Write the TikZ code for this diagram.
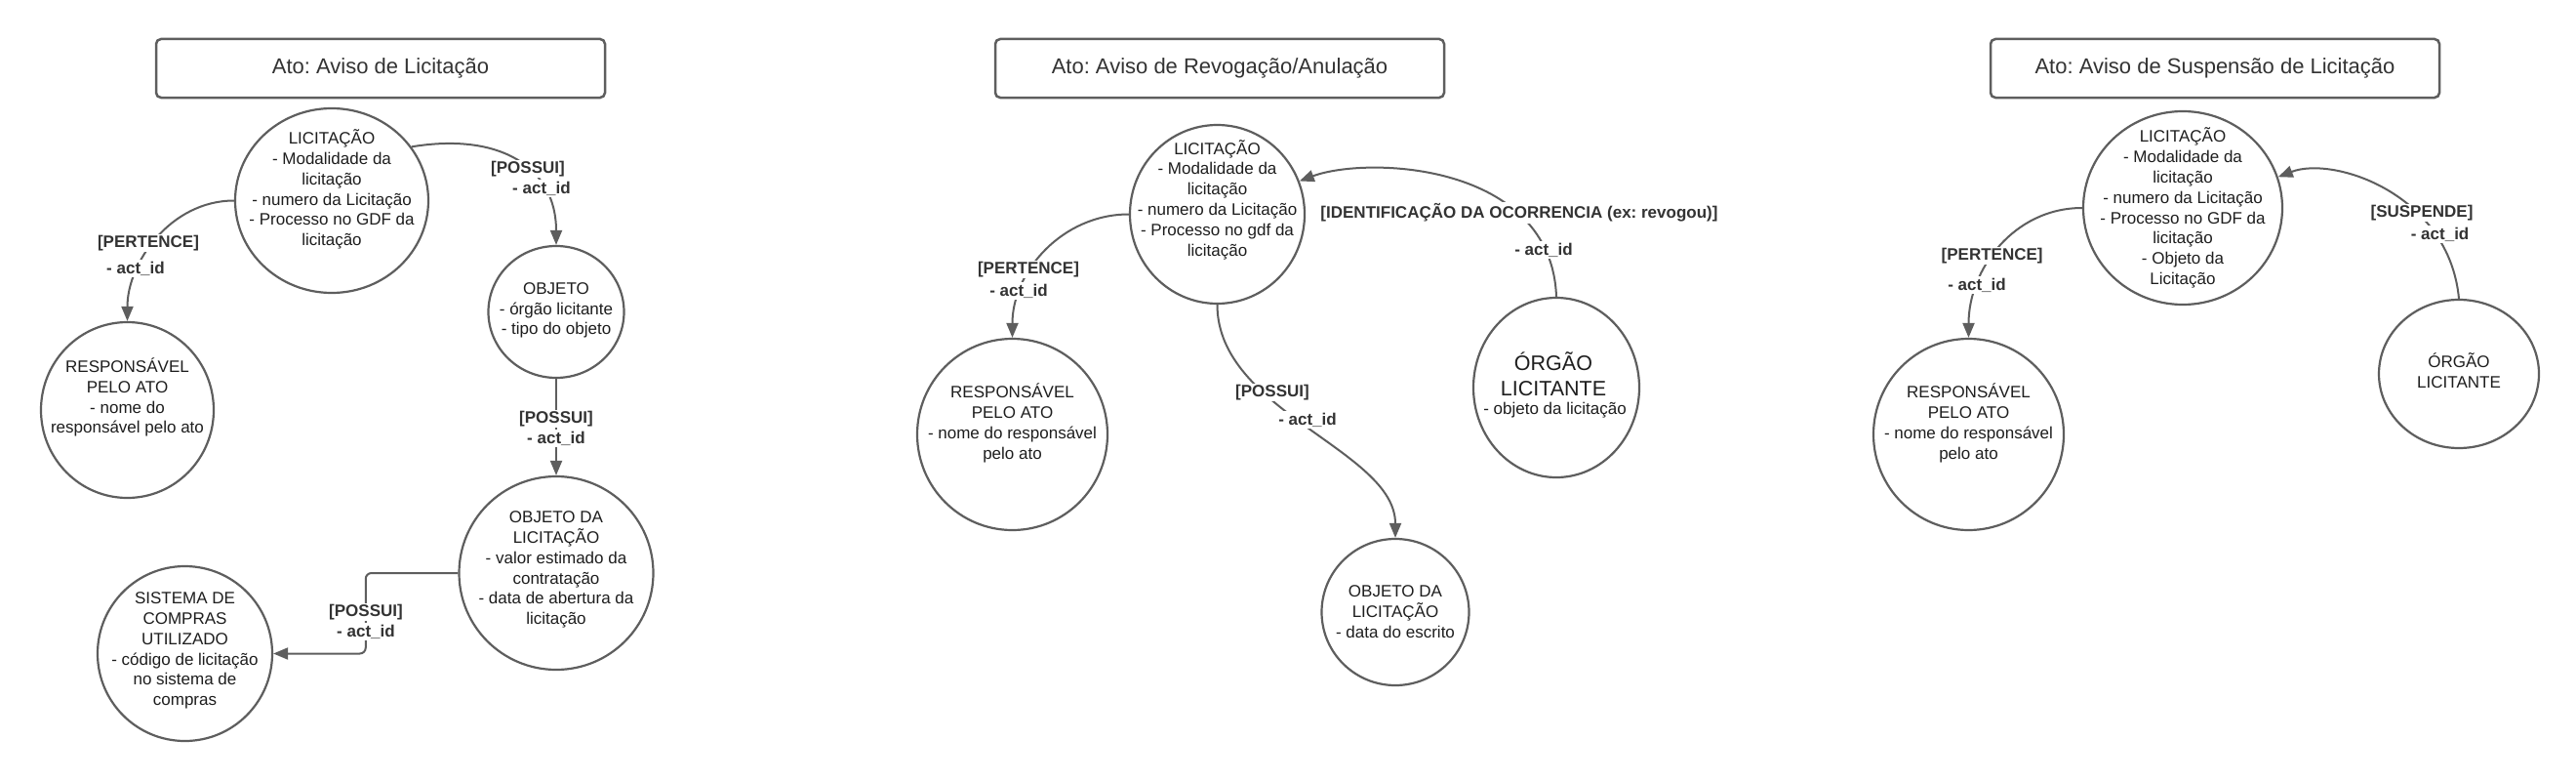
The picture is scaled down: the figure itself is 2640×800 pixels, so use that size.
\documentclass[tikz,border=0pt]{standalone}
\usepackage{fontspec}
\setmainfont{Liberation Sans}
\usetikzlibrary{arrows.meta,calc,shapes.geometric}
\definecolor{lnc}{HTML}{5E5E5E}
\definecolor{txc}{HTML}{1E1E1E}
\definecolor{lbc}{HTML}{333333}
\frenchspacing
\tikzset{
  ent/.style={ellipse, draw=lnc, line width=2.2pt, inner sep=0pt, fill=white},
  etxt/.style={align=center, font=\fontsize{17}{20.8}\selectfont, text=txc, inner sep=0pt},
  lbl/.style={font=\fontsize{17}{20}\selectfont\bfseries, text=lbc, fill=white, inner xsep=2pt, inner ysep=1.5pt},
  conn/.style={draw=lnc, line width=2pt, -{Triangle[length=15pt,width=12pt]}},
  titlebox/.style={draw=lnc, line width=2.5pt, rounded corners=5pt, minimum width=460pt, minimum height=60pt, font=\fontsize{22}{26}\selectfont, text=lbc, inner sep=0pt},
}
\begin{document}
\begin{tikzpicture}[x=1pt,y=-1pt]
\fill[white] (0,0) rectangle (2640,800);
\useasboundingbox (0,0) rectangle (2640,800);

% ---------------- Panel 1 ----------------
\node[titlebox] (t1) at (390,70) {Ato: Aviso de Licitação};
\node[ent, minimum width=198pt, minimum height=189pt] (l1) at (340,205.5) {};
\node[etxt] (l1t) at (340,194) {LICITAÇÃO\\- Modalidade da\\licitação\\- numero da Licitação\\- Processo no GDF da\\licitação};
\node[ent, minimum width=139pt, minimum height=135pt] (o1) at (570,319.5) {};
\node[etxt] (o1t) at (570,318) {OBJETO\\- órgão licitante\\- tipo do objeto};
\node[ent, minimum width=177pt, minimum height=180pt] (r1) at (130.5,420) {};
\node[etxt] (r1t) at (130.5,407) {RESPONSÁVEL\\PELO ATO\\- nome do\\responsável pelo ato};
\node[ent, minimum width=199pt, minimum height=198pt] (ol1) at (570,587) {};
\node[etxt] (ol1t) at (570,583.5) {OBJETO DA\\LICITAÇÃO\\- valor estimado da\\contratação\\- data de abertura da\\licitação};
\node[ent, minimum width=179pt, minimum height=179pt] (s1) at (189.5,669.5) {};
\node[etxt] (s1t) at (189.5,666.5) {SISTEMA DE\\COMPRAS\\UTILIZADO\\- código de licitação\\no sistema de\\compras};

\draw[conn] (l1.west) .. controls +(-65,0) and +(0,-60) .. (r1.north);
\node[lbl] (p1a) at (152,249) {[PERTENCE]};
\node[lbl] (p1b) at (139,275) {- act\_id};

\draw[conn] (l1.34) .. controls +(90,-15) and +(0,-80) .. (o1.north);
\node[lbl] (p2a) at (541,173) {[POSSUI]};
\node[lbl] (p2b) at (555,193) {- act\_id};

\draw[conn] (o1.south) -- (ol1.north);
\node[lbl] (p3a) at (570,429) {[POSSUI]};
\node[lbl] (p3b) at (570,449) {- act\_id};

\draw[conn, rounded corners=6pt] (ol1.west) -| ($(s1.east)!.5!(ol1.west |- s1.east)$) -- (s1.east);
\node[lbl] (p4a) at (375,627) {[POSSUI]};
\node[lbl] (p4b) at (375,647) {- act\_id};

% ---------------- Panel 2 ----------------
\node[titlebox] (t2) at (1250,70) {Ato: Aviso de Revogação/Anulação};
\node[ent, minimum width=179pt, minimum height=183pt] (l2) at (1247.5,219.5) {};
\node[etxt] (l2t) at (1247.5,204.5) {LICITAÇÃO\\- Modalidade da\\licitação\\- numero da Licitação\\- Processo no gdf da\\licitação};
\node[ent, minimum width=195pt, minimum height=196pt] (r2) at (1037.5,445) {};
\node[etxt] (r2t) at (1037.5,433.5) {RESPONSÁVEL\\PELO ATO\\- nome do responsável\\pelo ato};
\node[ent, minimum width=151pt, minimum height=150pt] (ol2) at (1430,627) {};
\node[etxt] (ol2t) at (1430,626.5) {OBJETO DA\\LICITAÇÃO\\- data do escrito};
\node[ent, minimum width=170pt, minimum height=184pt] (o2) at (1595,397) {};
\node[etxt, font=\fontsize{21.5}{26}\selectfont] (o2t) at (1592,383) {ÓRGÃO\\LICITANTE};
\node[etxt] (o2u) at (1593.5,420) {- objeto da licitação};

\draw[conn] (l2.west) .. controls +(-68,0) and +(0,-68) .. (r2.north);
\node[lbl] (p5a) at (1054,276) {[PERTENCE]};
\node[lbl] (p5b) at (1044,298) {- act\_id};

\draw[conn] (l2.south) .. controls +(0,110) and +(0,-90) .. (ol2.north);
\node[lbl] (p6a) at (1304,402) {[POSSUI]};
\node[lbl] (p6b) at (1340,430) {- act\_id};

\draw[conn] (o2.north) .. controls +(-5,-137) and +(70,-26) .. (l2.22);
\node[lbl] (p7a) at (1557,218) {[IDENTIFICAÇÃO DA OCORRENCIA (ex: revogou)]};
\node[lbl] (p7b) at (1582,256) {- act\_id};

% ---------------- Panel 3 ----------------
\node[titlebox] (t3) at (2270,70) {Ato: Aviso de Suspensão de Licitação};
\node[ent, minimum width=204pt, minimum height=198pt] (l3) at (2237,213) {};
\node[etxt] (l3t) at (2237,213) {LICITAÇÃO\\- Modalidade da\\licitação\\- numero da Licitação\\- Processo no GDF da\\licitação\\- Objeto da\\Licitação};
\node[ent, minimum width=195pt, minimum height=196pt] (r3) at (2017.5,445) {};
\node[etxt] (r3t) at (2017.5,433.5) {RESPONSÁVEL\\PELO ATO\\- nome do responsável\\pelo ato};
\node[ent, minimum width=164pt, minimum height=152pt] (o3) at (2520,383) {};
\node[etxt] (o3t) at (2520,380) {ÓRGÃO\\LICITANTE};

\draw[conn] (l3.west) .. controls +(-70,0) and +(0,-70) .. (r3.north);
\node[lbl] (p8a) at (2041.6,262) {[PERTENCE]};
\node[lbl] (p8b) at (2026,292) {- act\_id};

\draw[conn] (o3.north) .. controls +(-10,-107) and +(57,-22) .. (l3.18);
\node[lbl] (p9a) at (2482,218) {[SUSPENDE]};
\node[lbl] (p9b) at (2500.6,240) {- act\_id};
\end{tikzpicture}
\end{document}
